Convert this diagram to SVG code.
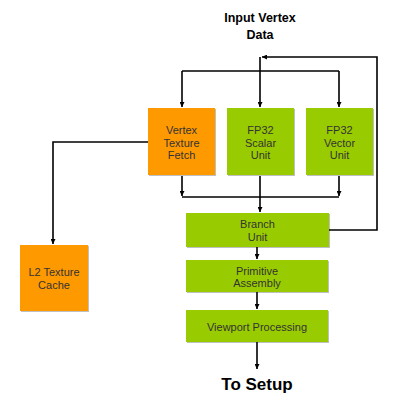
<svg xmlns="http://www.w3.org/2000/svg" width="400" height="403" viewBox="0 0 400 403">
<style>
.o{fill:#FF9900}
.g{fill:#99CC00}
.sh{fill:#000;opacity:0.25}
.t{font-family:"Liberation Sans",Arial,sans-serif;font-size:11px;fill:#333;text-anchor:middle}
.h{font-family:"Liberation Sans",Arial,sans-serif;font-weight:bold;fill:#000;text-anchor:middle}
.c{fill:none;stroke:#000;stroke-width:1.6}
</style>
<defs>
<marker id="a" viewBox="0 0 8 8" refX="8" refY="4" markerWidth="5" markerHeight="5" orient="auto" markerUnits="userSpaceOnUse">
<path d="M0,0L8,4L0,8z" fill="#000"/>
</marker>
</defs>
<rect width="400" height="403" fill="#fff"/>
<text class="h" x="260" y="22" font-size="12.5">Input Vertex</text>
<text class="h" x="260" y="39" font-size="12.5">Data</text>
<g id="connectors">
<path class="c" d="M182,71H339"/>
<path class="c" d="M182,71V107" marker-end="url(#a)"/>
<path class="c" d="M339,71V107" marker-end="url(#a)"/>
<path class="c" d="M260,57V107" marker-end="url(#a)"/>
<path class="c" d="M329,230H377V57H262" marker-end="url(#a)"/>
<path class="c" d="M182,176V196" marker-end="url(#a)"/>
<path class="c" d="M339,176V196" marker-end="url(#a)"/>
<path class="c" d="M182,197H339"/>
<path class="c" d="M260,176V212" marker-end="url(#a)"/>
<path class="c" d="M148,142H53V244" marker-end="url(#a)"/>
<path class="c" d="M257,247V259" marker-end="url(#a)"/>
<path class="c" d="M257,292V309" marker-end="url(#a)"/>
<path class="c" d="M257,342V369" marker-end="url(#a)"/>
</g>
<g id="vtf">
<rect class="sh" x="149" y="109" width="67" height="67"/>
<rect class="o" x="148" y="108" width="67" height="67"/>
<text class="t" x="181.5" y="134">Vertex</text>
<text class="t" x="181.5" y="146.5">Texture</text>
<text class="t" x="181.5" y="159">Fetch</text>
</g>
<g id="scalar">
<rect class="sh" x="228" y="109" width="67" height="67"/>
<rect class="g" x="227" y="108" width="67" height="67"/>
<text class="t" x="260.5" y="134">FP32</text>
<text class="t" x="260.5" y="146.5">Scalar</text>
<text class="t" x="260.5" y="159">Unit</text>
</g>
<g id="vector">
<rect class="sh" x="307" y="109" width="67" height="67"/>
<rect class="g" x="306" y="108" width="67" height="67"/>
<text class="t" x="339.5" y="134">FP32</text>
<text class="t" x="339.5" y="146.5">Vector</text>
<text class="t" x="339.5" y="159">Unit</text>
</g>
<g id="branch">
<rect class="sh" x="187" y="214" width="143" height="34"/>
<rect class="g" x="186" y="213" width="143" height="34"/>
<text class="t" x="257.5" y="228">Branch</text>
<text class="t" x="257.5" y="241">Unit</text>
</g>
<g id="l2">
<rect class="sh" x="21" y="246" width="68" height="66"/>
<rect class="o" x="20" y="245" width="68" height="66"/>
<text class="t" x="54" y="276">L2 Texture</text>
<text class="t" x="54" y="289">Cache</text>
</g>
<g id="primitive">
<rect class="sh" x="187" y="261" width="142" height="32"/>
<rect class="g" x="186" y="260" width="142" height="32"/>
<text class="t" x="257" y="274.5">Primitive</text>
<text class="t" x="257" y="287">Assembly</text>
</g>
<g id="viewport">
<rect class="sh" x="187" y="311" width="142" height="32"/>
<rect class="g" x="186" y="310" width="142" height="32"/>
<text class="t" x="257" y="331">Viewport Processing</text>
</g>
<text class="h" x="257" y="390" font-size="17">To Setup</text>
</svg>
